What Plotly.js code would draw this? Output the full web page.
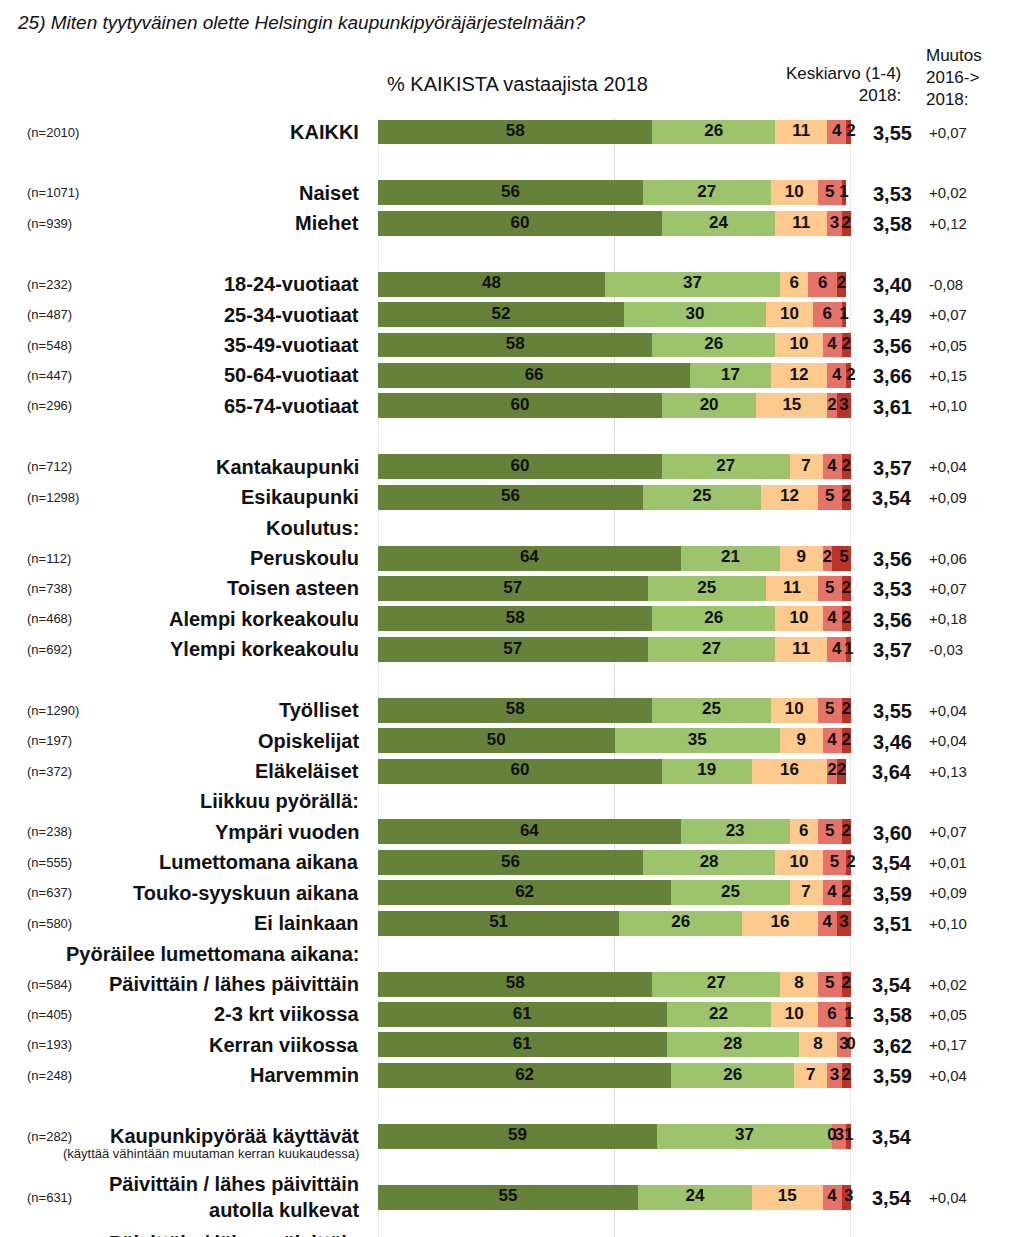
<!DOCTYPE html>
<html>
<head>
<meta charset="utf-8">
<script src="https://cdn.plot.ly/plotly-3.0.1.min.js"></script>
<style>
html,body{margin:0;padding:0;background:#fff;overflow:hidden;}
#chart{width:1024px;height:1237px;}
</style>
</head>
<body>
<div id="chart"></div>
<script>
// ---------- DATA ----------
const categories = [
  'KAIKKI', '', 'Naiset', 'Miehet', '',
  '18-24-vuotiaat', '25-34-vuotiaat', '35-49-vuotiaat', '50-64-vuotiaat', '65-74-vuotiaat', '',
  'Kantakaupunki', 'Esikaupunki', 'Koulutus:',
  'Peruskoulu', 'Toisen asteen', 'Alempi korkeakoulu', 'Ylempi korkeakoulu', '',
  'Työlliset', 'Opiskelijat', 'Eläkeläiset', 'Liikkuu pyörällä:',
  'Ympäri vuoden', 'Lumettomana aikana', 'Touko-syyskuun aikana', 'Ei lainkaan',
  'Pyöräilee lumettomana aikana:',
  'Päivittäin / lähes päivittäin', '2-3 krt viikossa', 'Kerran viikossa', 'Harvemmin', '',
  'Kaupunkipyörää käyttävät', '',
  'Päivittäin / lähes päivittäin<br>autolla kulkevat'
];
const nLabels = [
  '(n=2010)', '', '(n=1071)', '(n=939)', '',
  '(n=232)', '(n=487)', '(n=548)', '(n=447)', '(n=296)', '',
  '(n=712)', '(n=1298)', '',
  '(n=112)', '(n=738)', '(n=468)', '(n=692)', '',
  '(n=1290)', '(n=197)', '(n=372)', '',
  '(n=238)', '(n=555)', '(n=637)', '(n=580)',
  '',
  '(n=584)', '(n=405)', '(n=193)', '(n=248)', '',
  '(n=282)', '',
  '(n=631)'
];
const verySatisfied = [58,null,56,60,null,48,52,58,66,60,null,60,56,null,64,57,58,57,null,58,50,60,null,64,56,62,51,null,58,61,61,62,null,59,null,55];
const fairlySatisfied = [26,null,27,24,null,37,30,26,17,20,null,27,25,null,21,25,26,27,null,25,35,19,null,23,28,25,26,null,27,22,28,26,null,37,null,24];
const cannotSay = [11,null,10,11,null,6,10,10,12,15,null,7,12,null,9,11,10,11,null,10,9,16,null,6,10,7,16,null,8,10,8,7,null,0,null,15];
const fairlyDissatisfied = [4,null,5,3,null,6,6,4,4,2,null,4,5,null,2,5,4,4,null,5,4,2,null,5,5,4,4,null,5,6,3,3,null,3,null,4];
const veryDissatisfied = [2,null,1,2,null,2,1,2,2,3,null,2,2,null,5,2,2,1,null,2,2,2,null,2,2,2,3,null,2,1,0,2,null,1,null,3];
const averages = ['3,55','','3,53','3,58','','3,40','3,49','3,56','3,66','3,61','','3,57','3,54','','3,56','3,53','3,56','3,57','','3,55','3,46','3,64','','3,60','3,54','3,59','3,51','','3,54','3,58','3,62','3,59','','3,54','','3,54'];
const changes = ['+0,07','','+0,02','+0,12','','-0,08','+0,07','+0,05','+0,15','+0,10','','+0,04','+0,09','','+0,06','+0,07','+0,18','-0,03','','+0,04','+0,04','+0,13','','+0,07','+0,01','+0,09','+0,10','','+0,02','+0,05','+0,17','+0,04','','','','+0,04'];
const gridTicks = [0, 50, 100];

const seriesValues = [verySatisfied, fairlySatisfied, cannotSay, fairlyDissatisfied, veryDissatisfied];
const seriesColors = ['#66823a', '#9dc46c', '#fdc98c', '#e5736a', '#bb3327'];

// ---------- TRACES ----------
const rows = categories.map((_, i) => i);
const traces = [];
seriesValues.forEach((vals, s) => {
  traces.push({
    type: 'bar', orientation: 'h', y: rows, x: vals,
    marker: {color: seriesColors[s], line: {width: 0}},
    hoverinfo: 'skip', showlegend: false
  });
});
// segment value labels, placed at segment centres computed from the data
seriesValues.forEach((vals, s) => {
  const xs = [], ys = [], ts = [];
  vals.forEach((v, i) => {
    if (v === null) return;
    let start = 0;
    for (let k = 0; k < s; k++) start += seriesValues[k][i] || 0;
    xs.push(start + v / 2); ys.push(i); ts.push(String(v));
  });
  traces.push({
    type: 'scatter', mode: 'text', x: xs, y: ys, text: ts,
    textposition: 'middle center', cliponaxis: false,
    textfont: {family: 'Liberation Sans, Arial, sans-serif', size: 17, color: '#111', weight: 700},
    hoverinfo: 'skip', showlegend: false
  });
});

// ---------- ANNOTATIONS ----------
const ann = [];
const W = 1024, H = 1237;
categories.forEach((c, i) => {
  if (c) ann.push({xref: 'paper', yref: 'y', x: 361 / W, y: i, xanchor: 'right', yanchor: 'middle',
    text: c, showarrow: false, align: 'right',
    font: {family: 'Liberation Sans, Arial, sans-serif', size: 20, color: '#111', weight: 700}});
  if (nLabels[i]) ann.push({xref: 'paper', yref: 'y', x: 25 / W, y: i, xanchor: 'left', yanchor: 'middle',
    text: nLabels[i], showarrow: false,
    font: {family: 'Liberation Sans, Arial, sans-serif', size: 13, color: '#222'}});
  if (averages[i]) ann.push({xref: 'paper', yref: 'y', x: 892 / W, y: i, xanchor: 'center', yanchor: 'middle',
    yshift: -1, text: averages[i], showarrow: false,
    font: {family: 'Liberation Sans, Arial, sans-serif', size: 20, color: '#111', weight: 700}});
  if (changes[i]) ann.push({xref: 'paper', yref: 'y', x: 927 / W, y: i, xanchor: 'left', yanchor: 'middle',
    text: changes[i], showarrow: false,
    font: {family: 'Liberation Sans, Arial, sans-serif', size: 15, color: '#222'}});
});
// subtitle under "Kaupunkipyörää käyttävät"
ann.push({xref: 'paper', yref: 'y', x: 361 / W, y: 33, yshift: -17, xanchor: 'right', yanchor: 'middle',
  text: '(käyttää vähintään muutaman kerran kuukaudessa)', showarrow: false,
  font: {family: 'Liberation Sans, Arial, sans-serif', size: 13, color: '#222'}});
// label of the next group, cut off at the bottom of the page as in the original
ann.push({xref: 'paper', yref: 'paper', x: 361 / W, y: 0, yshift: -6, xanchor: 'right', yanchor: 'middle',
  text: 'Päivittäin / lähes päivittäin', showarrow: false,
  font: {family: 'Liberation Sans, Arial, sans-serif', size: 20, color: '#111', weight: 700}});
// headers
ann.push({xref: 'paper', yref: 'paper', x: 15 / W, y: 1 - 22 / H, xanchor: 'left', yanchor: 'middle',
  text: '25) Miten tyytyväinen olette Helsingin kaupunkipyöräjärjestelmään?', showarrow: false,
  font: {family: 'Liberation Sans, Arial, sans-serif', size: 19, color: '#111', style: 'italic'}});
ann.push({xref: 'paper', yref: 'paper', x: 517 / W, y: 1 - 84 / H, xanchor: 'center', yanchor: 'middle',
  text: '% KAIKISTA vastaajista 2018', showarrow: false,
  font: {family: 'Liberation Sans, Arial, sans-serif', size: 20, color: '#111'}});
ann.push({xref: 'paper', yref: 'paper', x: 903 / W, y: 1 - 84 / H, xanchor: 'right', yanchor: 'middle',
  text: 'Keskiarvo (1-4)<br>2018:', showarrow: false, align: 'right',
  font: {family: 'Liberation Sans, Arial, sans-serif', size: 17, color: '#111'}});
ann.push({xref: 'paper', yref: 'paper', x: 924 / W, y: 1 - 78 / H, xanchor: 'left', yanchor: 'middle',
  text: 'Muutos<br>2016-><br>2018:', showarrow: false, align: 'left',
  font: {family: 'Liberation Sans, Arial, sans-serif', size: 17, color: '#111'}});

// gridlines
const shapes = gridTicks.map(g => ({type: 'line', xref: 'x', yref: 'paper', x0: g, x1: g,
  y0: 0, y1: 1 - 118 / H, line: {color: '#d9d9d9', width: 1}, layer: 'below'}));

const rowPitch = 30.43, firstRowPx = 132;
const layout = {
  width: W, height: H,
  margin: {l: 0, r: 0, t: 0, b: 0, pad: 0},
  paper_bgcolor: '#fff', plot_bgcolor: 'rgba(0,0,0,0)',
  barmode: 'stack', bargap: 0.18,
  showlegend: false,
  xaxis: {domain: [378 / W, 851 / W], range: [0, 100], showgrid: false, zeroline: false,
    showticklabels: false, ticks: '', fixedrange: true},
  yaxis: {range: [(H - firstRowPx) / rowPitch, -firstRowPx / rowPitch], showgrid: false, zeroline: false,
    showticklabels: false, ticks: '', fixedrange: true},
  annotations: ann,
  shapes: shapes
};
Plotly.newPlot('chart', traces, layout, {displayModeBar: false, staticPlot: true});
</script>
</body>
</html>
